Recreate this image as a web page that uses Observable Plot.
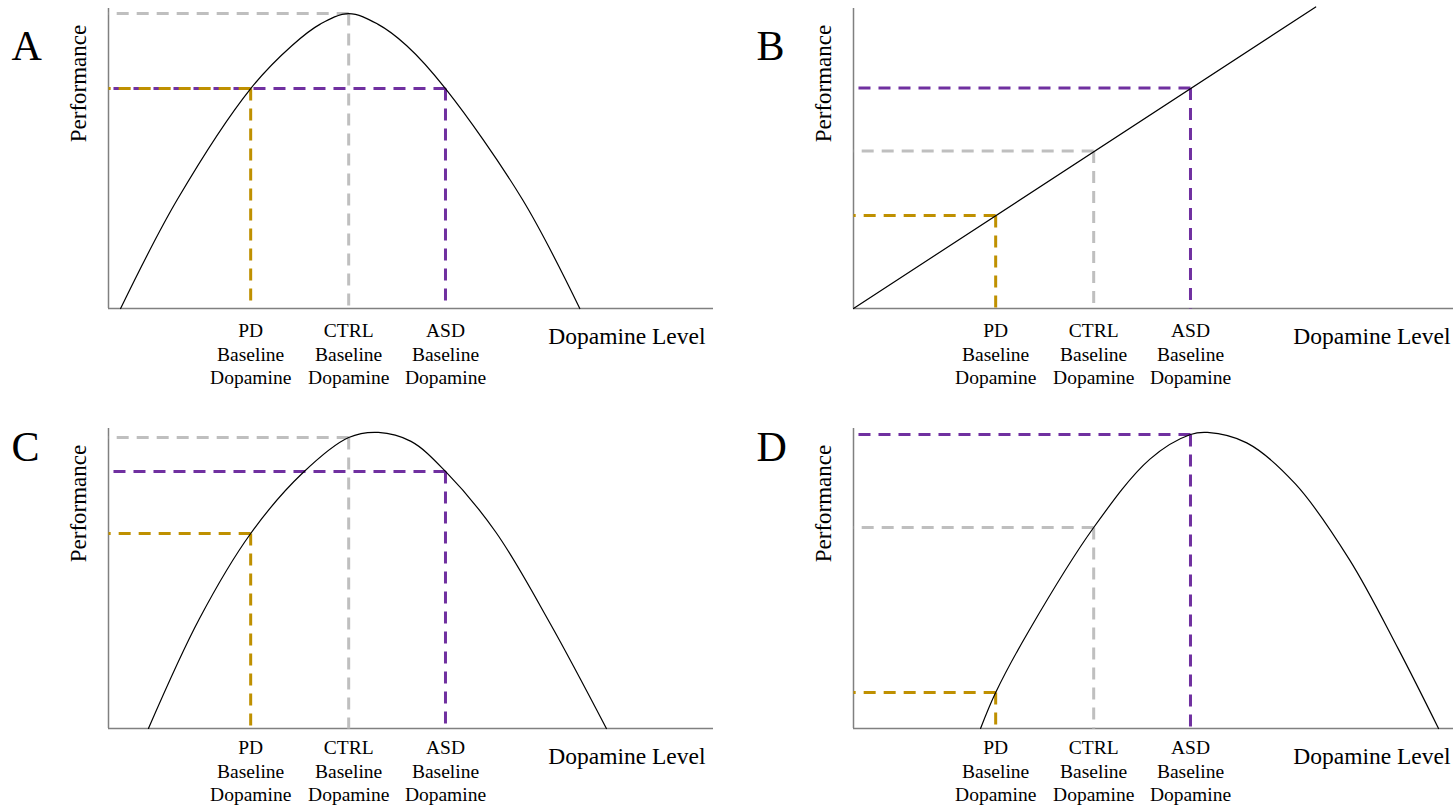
<!DOCTYPE html>
<html>
<head>
<meta charset="utf-8">
<script src="https://cdn.jsdelivr.net/npm/d3@7"></script>
<script src="https://cdn.jsdelivr.net/npm/@observablehq/plot@0.6"></script>
<style>
  html, body { margin: 0; padding: 0; background: #fff; overflow: hidden; }
  #figure { position: relative; width: 1453px; height: 808px; overflow: hidden; background: #fff; }
  .panel { position: absolute; width: 726px; height: 420px; }
  .panel svg { max-width: none !important; }
</style>
</head>
<body>
<div id="figure"></div>
<script>
// Groups and their baseline dopamine levels (x axis, arbitrary units 0–10)
const groups = ["PD", "CTRL", "ASD"];
const groupColors = ["#bf9000", "#bfbfbf", "#7030a0"];
const baselineDopamine = [2.35, 3.97, 5.57];
const tickLabels = ["PD\nBaseline\nDopamine", "CTRL\nBaseline\nDopamine", "ASD\nBaseline\nDopamine"];

// Performance of each group (PD, CTRL, ASD) in each scenario (y axis, 0–10)
const performanceA = [7.33, 9.83, 7.33];
const performanceB = [3.1, 5.25, 7.35];
const performanceC = [6.5, 9.7, 8.57];
const performanceD = [1.2, 6.7, 9.8];

// Dopamine–performance relationship in each scenario: [dopamine, performance]
const curveA = [[0.2, 0], [1.14, 3.64], [2.35, 7.33], [3.03, 8.76], [3.5, 9.48], [3.97, 9.83], [4.45, 9.48], [4.93, 8.76], [5.57, 7.33], [6.84, 3.64], [7.79, 0]];
const curveB = [[0, 0], [7.64, 10.05]];
const curveC = [[0.66, 0], [1.5, 3.65], [2.35, 6.5], [3.2, 8.5], [3.97, 9.7], [4.46, 9.87], [5.0, 9.57], [5.57, 8.57], [6.4, 6.55], [7.3, 3.5], [8.23, 0]];
const curveD = [[2.1, 0], [2.35, 1.2], [2.9, 3.26], [3.97, 6.7], [4.9, 8.98], [5.57, 9.8], [5.85, 9.87], [6.5, 9.52], [7.3, 8.16], [8.2, 5.62], [9.0, 2.67], [9.67, 0]];

const panelLetters = ["A", "B", "C", "D"];

// Grey (CTRL) first, then purple (ASD), then gold (PD) on top
const drawOrder = [1, 2, 0];

function panel({letter, curve, performance, linear, letterDy, tickPadding}) {
  return Plot.plot({
    width: 726,
    height: 420,
    marginLeft: 108,
    marginRight: 13,
    marginTop: 8,
    marginBottom: 112,
    style: {fontFamily: "'Liberation Serif', 'Times New Roman', serif", color: "#000", background: "transparent", overflow: "visible"},
    x: {domain: [0, 10], axis: null},
    y: {domain: [0, 10], axis: null},
    color: {domain: groups, range: groupColors},
    marks: [
      // axis lines
      Plot.ruleX([0], {stroke: "#808080", strokeWidth: 1.5}),
      Plot.ruleY([0], {stroke: "#808080", strokeWidth: 1.5}),
      // dashed guides from each group's point down to the x axis and across to the y axis
      Plot.link(drawOrder, {
        x1: (i) => baselineDopamine[i], y1: (i) => performance[i],
        x2: (i) => baselineDopamine[i], y2: 0,
        stroke: (i) => groups[i], strokeWidth: 3, strokeDasharray: "12,8"
      }),
      Plot.link(drawOrder, {
        x1: (i) => baselineDopamine[i], y1: (i) => performance[i],
        x2: 0, y2: (i) => performance[i],
        stroke: (i) => groups[i], strokeWidth: 3, strokeDasharray: "12,8"
      }),
      // dopamine–performance relationship
      Plot.line(curve, {x: (d) => d[0], y: (d) => d[1], curve: linear ? "linear" : "catmull-rom", stroke: "#000", strokeWidth: 1.2}),
      // group tick labels
      Plot.axisX({
        ticks: baselineDopamine,
        tickFormat: (d) => tickLabels[baselineDopamine.indexOf(d)],
        tickSize: 0, tickPadding, fontSize: 19.5, lineHeight: 1.2, label: null
      }),
      Plot.text(["Dopamine Level"], {frameAnchor: "bottom-right", dx: -8, dy: 35, textAnchor: "end", lineAnchor: "bottom", fontSize: 23.5}),
      Plot.text(["Performance"], {frameAnchor: "top-left", dx: -23, dy: 75, rotate: -90, textAnchor: "middle", lineAnchor: "bottom", fontSize: 23}),
      Plot.text([letter], {frameAnchor: "top-left", dx: -97, dy: letterDy, textAnchor: "start", lineAnchor: "bottom", fontSize: 42})
    ]
  });
}

const panels = [
  {letter: panelLetters[0], curve: curveA, performance: performanceA, linear: false, letterDy: 51, tickPadding: 12, left: 0, top: 0},
  {letter: panelLetters[1], curve: curveB, performance: performanceB, linear: true, letterDy: 51, tickPadding: 12, left: 745, top: 0},
  {letter: panelLetters[2], curve: curveC, performance: performanceC, linear: false, letterDy: 32, tickPadding: 9, left: 0, top: 420},
  {letter: panelLetters[3], curve: curveD, performance: performanceD, linear: false, letterDy: 32, tickPadding: 9, left: 745, top: 420}
];

const figure = document.getElementById("figure");
for (const p of panels) {
  const div = document.createElement("div");
  div.className = "panel";
  div.style.left = p.left + "px";
  div.style.top = p.top + "px";
  div.appendChild(panel(p));
  figure.appendChild(div);
}
</script>
</body>
</html>
